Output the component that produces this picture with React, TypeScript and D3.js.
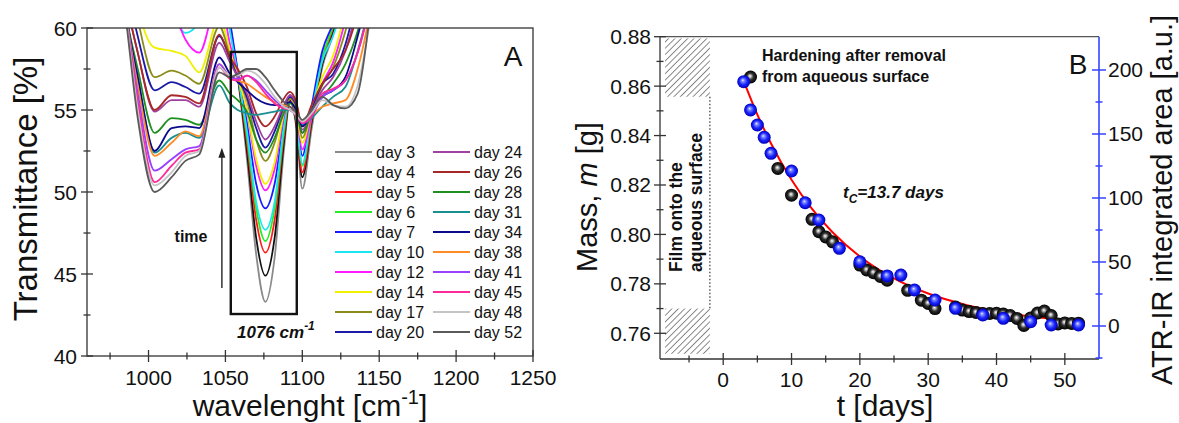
import React from "react";
import * as d3 from "d3";

// ---------- Panel A data ----------
const WAVENUMBERS = [962, 975, 985, 993, 1004, 1015, 1024, 1033, 1046, 1053, 1058, 1064, 1070, 1076, 1082, 1088, 1092, 1096, 1100, 1106, 1113, 1120, 1128, 1136, 1145, 1160];
const DAYS = [3, 4, 5, 6, 7, 10, 12, 14, 17, 20, 24, 26, 28, 31, 34, 38, 41, 45, 48, 52];
const DAY_COLORS = ["#8a8a8a", "#111111", "#ff1a1a", "#22ee22", "#1a1aff", "#1ae6f0", "#ff1aff", "#f0f000", "#8c8c1a", "#1a1aa6", "#a040a0", "#a82828", "#1f8f1f", "#1a8f8f", "#0a0a8c", "#ff8c26", "#9a40ff", "#ff2a9a", "#c4c4c4", "#5a5a5a"];
const TRANSMITTANCE = [
  [72, 72, 72, 72, 71, 70, 69, 68, 64, 60.0, 57.0, 52.0, 46.2, 43.3, 46.0, 52.5, 55.5, 54.0, 50.2, 53.8, 57.6, 59.6, 63, 66, 69, 72],
  [72, 72, 72, 72, 71, 70, 69, 68, 64, 60.1, 57.1, 52.5, 47.2, 44.9, 47.2, 53.0, 55.6, 54.2, 50.9, 54.2, 57.8, 59.8, 63, 66, 69, 72],
  [72, 72, 72, 72, 71, 70, 69, 68, 64, 60.2, 57.2, 53.0, 48.3, 46.3, 48.3, 53.4, 55.7, 54.3, 51.2, 54.4, 58.0, 60.0, 63, 66, 69, 72],
  [72, 72, 72, 72, 71, 70, 69, 68, 64, 60.0, 57.3, 53.4, 49.0, 47.0, 49.0, 53.7, 55.8, 54.5, 51.6, 54.7, 58.2, 60.1, 63, 66, 69, 72],
  [72, 72, 72, 72, 71, 70, 69, 68, 64, 60.4, 57.4, 54.2, 50.5, 49.0, 50.5, 54.2, 55.9, 54.9, 52.2, 55.2, 58.6, 60.3, 63, 66, 69, 72],
  [72, 72, 70, 66, 63, 61, 59.7, 60.4, 64, 59.8, 57.2, 53.7, 49.4, 47.7, 49.4, 54.0, 55.8, 54.6, 51.7, 54.8, 58.0, 59.5, 62, 65, 68, 72],
  [72, 72, 70, 67, 64, 61.5, 59.3, 58.5, 62, 59.0, 57.2, 55.0, 51.6, 50.1, 51.4, 54.6, 55.7, 54.8, 52.6, 54.6, 56.6, 57.9, 60.5, 64, 68, 72],
  [72, 72, 68, 61.5, 58.8, 58.6, 58.3, 57.3, 60.6, 58.6, 57.0, 55.0, 52.0, 50.5, 51.8, 54.8, 55.7, 55.0, 53.0, 55.0, 57.0, 58.3, 61, 64, 68, 72],
  [72, 70, 64, 60.5, 57.0, 57.4, 57.1, 56.6, 60.1, 58.3, 57.0, 55.6, 53.2, 51.9, 53.0, 55.0, 55.7, 55.2, 53.3, 54.9, 56.5, 57.6, 59.8, 63, 67, 72],
  [72, 69, 63, 59.5, 56.2, 56.7, 56.4, 56.0, 59.5, 58.1, 57.0, 55.8, 53.9, 52.7, 53.7, 55.2, 55.8, 55.3, 53.6, 55.0, 56.6, 57.2, 59.0, 62, 66, 72],
  [72, 69, 62, 58.5, 54.9, 55.6, 55.6, 55.2, 59.1, 57.9, 57.0, 56.0, 54.3, 53.2, 54.0, 55.3, 55.9, 55.4, 53.8, 54.9, 56.2, 57.0, 58.6, 61.5, 66, 72],
  [72, 69, 62, 58.5, 55.0, 55.9, 55.8, 55.4, 59.6, 58.2, 57.5, 56.4, 54.8, 54.0, 54.6, 55.7, 56.1, 55.5, 54.0, 55.3, 56.6, 57.5, 58.6, 61, 66, 72],
  [72, 68, 61, 57.5, 53.6, 54.5, 54.4, 54.1, 56.8, 56.0, 55.6, 54.9, 53.2, 52.4, 53.3, 54.8, 55.4, 55.0, 53.6, 54.8, 55.8, 56.6, 57.8, 59.8, 63, 72],
  [72, 68, 61, 57.0, 52.4, 53.3, 53.6, 53.3, 56.5, 55.4, 55.0, 54.8, 54.7, 54.8, 54.9, 55.0, 55.0, 54.7, 54.1, 54.5, 55.2, 55.8, 56.4, 58.6, 62, 72],
  [72, 68, 61, 57.0, 52.5, 53.9, 54.0, 53.9, 58.2, 57.2, 56.7, 56.2, 55.7, 55.4, 55.3, 55.3, 55.5, 55.0, 54.0, 54.8, 55.8, 56.2, 57.0, 59.5, 63, 72],
  [72, 68, 61, 56.5, 52.2, 53.0, 53.7, 53.4, 57.8, 57.0, 56.8, 56.6, 56.2, 55.8, 55.5, 55.3, 55.2, 54.9, 54.3, 54.7, 55.2, 55.4, 55.6, 57.5, 61.5, 72],
  [72, 68, 61, 56.0, 51.3, 52.0, 52.6, 52.8, 57.8, 57.0, 56.9, 57.1, 56.8, 56.2, 55.6, 55.2, 55.0, 54.7, 54.2, 54.6, 55.8, 56.2, 56.8, 58.5, 62, 72],
  [72, 68, 61, 55.5, 50.6, 51.6, 52.4, 52.6, 57.6, 56.9, 56.8, 57.1, 56.7, 56.0, 55.4, 55.1, 55.0, 54.7, 54.2, 54.6, 56.0, 56.3, 56.8, 58.5, 62, 72],
  [72, 68, 61, 55.0, 50.4, 51.2, 52.2, 52.5, 57.6, 57.1, 57.1, 57.4, 57.2, 56.6, 55.8, 55.2, 55.0, 54.7, 54.3, 54.8, 55.6, 55.3, 55.2, 56.5, 61, 72],
  [72, 68, 60.8, 54.5, 50.0, 50.9, 51.9, 52.3, 57.3, 57.0, 57.2, 57.5, 57.5, 57.0, 56.2, 55.5, 55.2, 54.9, 54.4, 55.0, 55.8, 55.3, 55.1, 56.0, 61.5, 72],
];
const A_X_TICKS = [1000, 1050, 1100, 1150, 1200, 1250];
const A_X_MINOR = [975, 1025, 1075, 1125, 1175, 1225];
const A_Y_TICKS = [40, 45, 50, 55, 60];
const A_Y_MINOR = [42.5, 47.5, 52.5, 57.5];
// annotation box (wavenumber / transmittance units)
const BOX_WN = [1053.5, 1096.4];
const BOX_T = [42.56, 58.54];
const ARROW_WN = 1047.7;
const ARROW_T = [44.15, 52.7];

// ---------- Panel B data ----------
const MASS_T = [4, 8, 10, 13, 14, 15, 16, 20, 21, 22, 23, 24, 27, 29, 30, 31, 34, 35, 36, 37, 38, 39, 40, 41, 42, 43, 44, 45, 46, 47, 48, 49, 50, 51, 52];
const MASS_G = [0.8637, 0.8267, 0.8159, 0.8061, 0.8011, 0.799, 0.797, 0.7876, 0.7856, 0.7845, 0.783, 0.7815, 0.7774, 0.7734, 0.7721, 0.77, 0.7706, 0.7694, 0.7688, 0.7684, 0.768, 0.768, 0.7681, 0.7678, 0.7672, 0.766, 0.7632, 0.7662, 0.7682, 0.769, 0.7672, 0.7638, 0.7642, 0.764, 0.7641];
const ATR_T = [3, 4, 5, 6, 7, 10, 12, 14, 17, 20, 24, 26, 28, 31, 34, 38, 41, 45, 48, 52];
const ATR_AREA = [190.9, 168.8, 157.0, 147.4, 134.9, 121.1, 96.3, 82.8, 60.7, 50.2, 39.1, 39.8, 28.1, 20.3, 13.8, 8.6, 6.0, 3.4, 0.8, 0.8];
const FIT_T = [3, 5, 7, 10, 13, 16, 20, 25, 30, 35, 40, 45, 52];
const FIT_M = [0.8621, 0.8485, 0.8368, 0.8221, 0.8103, 0.8009, 0.7911, 0.7822, 0.7761, 0.7719, 0.7689, 0.7668, 0.765];
const B_X_TICKS = [0, 10, 20, 30, 40, 50];
const B_X_MINOR = [-5, 5, 15, 25, 35, 45];
const B_YL_TICKS = [0.76, 0.78, 0.8, 0.82, 0.84, 0.86, 0.88];
const B_YL_MINOR = [0.77, 0.79, 0.81, 0.83, 0.85, 0.87];
const B_YR_TICKS = [0, 50, 100, 150, 200];
const B_YR_MINOR = [-25, 25, 75, 125, 175];
const HATCH_T = [-8.5, -1.95];
const HATCH_TOP = [0.8557, 0.8793];
const HATCH_BOTTOM = [0.7517, 0.77];

const FONT = "'Liberation Sans', Arial, Helvetica, sans-serif";

export default function App() {
  // Panel A scales
  const xA = d3.scaleLinear().domain([960, 1250]).range([87, 533]);
  const yA = d3.scaleLinear().domain([40, 60]).range([356, 28]);
  const lineA = d3
    .line<number>()
    .x((_, i) => xA(WAVENUMBERS[i]))
    .y((d) => yA(d))
    .curve(d3.curveMonotoneX);

  // Panel B scales
  const xB = d3.scaleLinear().domain([-9.25, 55]).range([660, 1099]);
  const yL = d3.scaleLinear().domain([0.75, 0.88]).range([358, 36.7]);
  const yR = d3.scaleLinear().domain([-25, 226]).range([358, 36.7]);
  const fitLine = d3
    .line<number>()
    .x((_, i) => xB(FIT_T[i]))
    .y((d) => yL(d))
    .curve(d3.curveMonotoneX);

  const axisColor = "#333";
  const legendRows = 10;

  return (
    <svg
      width={1179}
      height={423}
      style={{ position: "absolute", left: 0, top: 0, background: "#fff" }}
      fontFamily={FONT}
    >
      <defs>
        <clipPath id="clipA">
          <rect x={87} y={28} width={446} height={328} />
        </clipPath>
        <radialGradient id="gBlack" cx="0.5" cy="0.5" r="0.5" fx="0.45" fy="0.42">
          <stop offset="0" stopColor="#ffffff" />
          <stop offset="0.18" stopColor="#bdbdbd" />
          <stop offset="0.5" stopColor="#303030" />
          <stop offset="1" stopColor="#000000" />
        </radialGradient>
        <radialGradient id="gBlue" cx="0.5" cy="0.5" r="0.5" fx="0.42" fy="0.38">
          <stop offset="0" stopColor="#e8ecff" />
          <stop offset="0.22" stopColor="#7f8cff" />
          <stop offset="0.6" stopColor="#1a24ff" />
          <stop offset="1" stopColor="#0000b8" />
        </radialGradient>
        <pattern id="hatch" width={4.5} height={4.5} patternUnits="userSpaceOnUse" patternTransform="rotate(45)">
          <line x1={0} y1={0} x2={0} y2={4.5} stroke="#2a2a2a" strokeWidth={1.1} />
        </pattern>
      </defs>

      {/* ================= Panel A ================= */}
      <g clipPath="url(#clipA)">
        {TRANSMITTANCE.map((vals, i) => (
          <path key={DAYS[i]} d={lineA(vals) || ""} fill="none" stroke={DAY_COLORS[i]} strokeWidth={1.8} />
        ))}
      </g>
      {/* frame */}
      <rect x={87} y={28} width={446} height={328} fill="none" stroke={axisColor} strokeWidth={1.3} />
      {/* x ticks */}
      {A_X_TICKS.map((t) => (
        <g key={"ax" + t}>
          <line x1={xA(t)} x2={xA(t)} y1={yA(40) - 6} y2={yA(40) + 6} stroke={axisColor} strokeWidth={1.3} />
          <text x={xA(t)} y={385} fontSize={21} textAnchor="middle" fill="#111">{t}</text>
        </g>
      ))}
      {A_X_MINOR.map((t) => (
        <line key={"axm" + t} x1={xA(t)} x2={xA(t)} y1={yA(40) - 3.5} y2={yA(40) + 3.5} stroke={axisColor} strokeWidth={1.3} />
      ))}
      {A_Y_TICKS.map((t) => (
        <g key={"ay" + t}>
          <line x1={xA(960) - 6} x2={xA(960) + 6} y1={yA(t)} y2={yA(t)} stroke={axisColor} strokeWidth={1.3} />
          <text x={77} y={yA(t) + 7.5} fontSize={21} textAnchor="end" fill="#111">{t}</text>
        </g>
      ))}
      {A_Y_MINOR.map((t) => (
        <line key={"aym" + t} x1={xA(960) - 3.5} x2={xA(960) + 3.5} y1={yA(t)} y2={yA(t)} stroke={axisColor} strokeWidth={1.3} />
      ))}
      <text transform={`translate(37,189) rotate(-90)`} fontSize={33} textAnchor="middle" fill="#111">
        Transmittance [%]
      </text>
      <text x={310} y={416} fontSize={30} textAnchor="middle" fill="#111">
        wavelenght [cm<tspan fontSize={20} dy={-12}>-1</tspan><tspan dy={12}>]</tspan>
      </text>
      <text x={513} y={66} fontSize={28} textAnchor="middle" fill="#111">A</text>

      {/* box and arrow */}
      <rect
        x={xA(BOX_WN[0])}
        y={yA(BOX_T[1])}
        width={xA(BOX_WN[1]) - xA(BOX_WN[0])}
        height={yA(BOX_T[0]) - yA(BOX_T[1])}
        fill="none"
        stroke="#111"
        strokeWidth={2.4}
      />
      <line x1={xA(ARROW_WN)} x2={xA(ARROW_WN)} y1={yA(ARROW_T[0])} y2={yA(ARROW_T[1]) + 8} stroke="#333" strokeWidth={1.5} />
      <path
        d={`M${xA(ARROW_WN)},${yA(ARROW_T[1])} L${xA(ARROW_WN) - 3.5},${yA(ARROW_T[1]) + 10} L${xA(ARROW_WN) + 3.5},${yA(ARROW_T[1]) + 10} Z`}
        fill="#222"
      />
      <text x={191} y={242} fontSize={16} fontWeight="bold" textAnchor="middle" fill="#111">time</text>
      <text x={237} y={338} fontSize={17} fontWeight="bold" fontStyle="italic" fill="#111">
        1076 cm<tspan fontSize={12} dy={-8}>-1</tspan>
      </text>

      {/* legend */}
      {DAYS.map((d, i) => {
        const col = Math.floor(i / legendRows);
        const row = i % legendRows;
        const lx = col === 0 ? 335 : 433;
        const ly = 152 + row * 20;
        return (
          <g key={"lg" + d}>
            <line x1={lx} x2={lx + 37} y1={ly} y2={ly} stroke={DAY_COLORS[i]} strokeWidth={2.2} />
            <text x={lx + 41} y={ly + 5.5} fontSize={16} fill="#111">{`day ${d}`}</text>
          </g>
        );
      })}

      {/* ================= Panel B ================= */}
      {/* hatched regions */}
      <rect
        x={xB(HATCH_T[0])}
        y={yL(HATCH_TOP[1])}
        width={xB(HATCH_T[1]) - xB(HATCH_T[0])}
        height={yL(HATCH_TOP[0]) - yL(HATCH_TOP[1])}
        fill="url(#hatch)"
      />
      <rect
        x={xB(HATCH_T[0])}
        y={yL(HATCH_BOTTOM[1])}
        width={xB(HATCH_T[1]) - xB(HATCH_T[0])}
        height={yL(HATCH_BOTTOM[0]) - yL(HATCH_BOTTOM[1])}
        fill="url(#hatch)"
      />
      <line
        x1={xB(HATCH_T[1])}
        x2={xB(HATCH_T[1])}
        y1={yL(HATCH_TOP[0])}
        y2={yL(HATCH_BOTTOM[1])}
        stroke="#444"
        strokeWidth={1.3}
        strokeDasharray="1.5,2"
      />
      <text transform={`translate(682,272) rotate(-90)`} fontSize={17.5} fontWeight="bold" fill="#111">Film onto the</text>
      <text transform={`translate(702,272) rotate(-90)`} fontSize={17.5} fontWeight="bold" fill="#111">aqueous surface</text>

      {/* frame lines */}
      <line x1={660} x2={1099} y1={36.7} y2={36.7} stroke="#555" strokeWidth={1.3} />
      <line x1={660} x2={660} y1={36.7} y2={359} stroke={axisColor} strokeWidth={1.3} />
      <line x1={660} x2={1099} y1={359} y2={359} stroke={axisColor} strokeWidth={1.3} />
      <line x1={1099} x2={1099} y1={36.7} y2={359} stroke="#3344ff" strokeWidth={1.6} />

      {/* B x ticks */}
      {B_X_TICKS.map((t) => (
        <g key={"bx" + t}>
          <line x1={xB(t)} x2={xB(t)} y1={353} y2={365} stroke={axisColor} strokeWidth={1.3} />
          <text x={xB(t)} y={387} fontSize={21} textAnchor="middle" fill="#111">{t}</text>
        </g>
      ))}
      {B_X_MINOR.map((t) => (
        <line key={"bxm" + t} x1={xB(t)} x2={xB(t)} y1={355.5} y2={362.5} stroke={axisColor} strokeWidth={1.3} />
      ))}
      {B_YL_TICKS.map((t) => (
        <g key={"byl" + t}>
          <line x1={654} x2={666} y1={yL(t)} y2={yL(t)} stroke={axisColor} strokeWidth={1.3} />
          <text x={651} y={yL(t) + 7.5} fontSize={21} textAnchor="end" fill="#111">{t.toFixed(2)}</text>
        </g>
      ))}
      {B_YL_MINOR.map((t) => (
        <line key={"bylm" + t} x1={656.5} x2={663.5} y1={yL(t)} y2={yL(t)} stroke={axisColor} strokeWidth={1.3} />
      ))}
      {B_YR_TICKS.map((t) => (
        <g key={"byr" + t}>
          <line x1={1092} x2={1106} y1={yR(t)} y2={yR(t)} stroke="#3344ff" strokeWidth={1.5} />
          <text x={1108} y={yR(t) + 7.5} fontSize={21} textAnchor="start" fill="#111">{t}</text>
        </g>
      ))}
      {B_YR_MINOR.map((t) => (
        <line key={"byrm" + t} x1={1095.5} x2={1102.5} y1={yR(t)} y2={yR(t)} stroke="#3344ff" strokeWidth={1.5} />
      ))}

      {/* fit */}
      <path d={fitLine(FIT_M) || ""} fill="none" stroke="#ff0000" strokeWidth={2} />
      {/* mass points (black) */}
      {MASS_T.map((t, i) => (
        <circle key={"m" + i} cx={xB(t)} cy={yL(MASS_G[i])} r={6.5} fill="url(#gBlack)" />
      ))}
      {/* ATR points (blue) */}
      {ATR_T.map((t, i) => (
        <circle key={"a" + i} cx={xB(t)} cy={yR(ATR_AREA[i])} r={6.5} fill="url(#gBlue)" />
      ))}

      {/* B texts */}
      <text x={762} y={61} fontSize={16} fontWeight="bold" fill="#111">Hardening after removal</text>
      <text x={762} y={82} fontSize={16} fontWeight="bold" fill="#111">from aqueous surface</text>
      <text x={843} y={198} fontSize={17} fontWeight="bold" fontStyle="italic" fill="#111">
        t<tspan fontSize={12} dy={5}>C</tspan><tspan dy={-5}>=13.7 days</tspan>
      </text>
      <text x={1078} y={74} fontSize={28} textAnchor="middle" fill="#111">B</text>
      <text transform={`translate(597,197) rotate(-90)`} fontSize={29} textAnchor="middle" fill="#111">
        Mass, <tspan fontStyle="italic">m</tspan> [g]
      </text>
      <text transform={`translate(1172,200) rotate(-90)`} fontSize={29} textAnchor="middle" fill="#111">
        ATR-IR integrated area [a.u.]
      </text>
      <text x={885} y={416} fontSize={30} textAnchor="middle" fill="#111">t [days]</text>
    </svg>
  );
}
